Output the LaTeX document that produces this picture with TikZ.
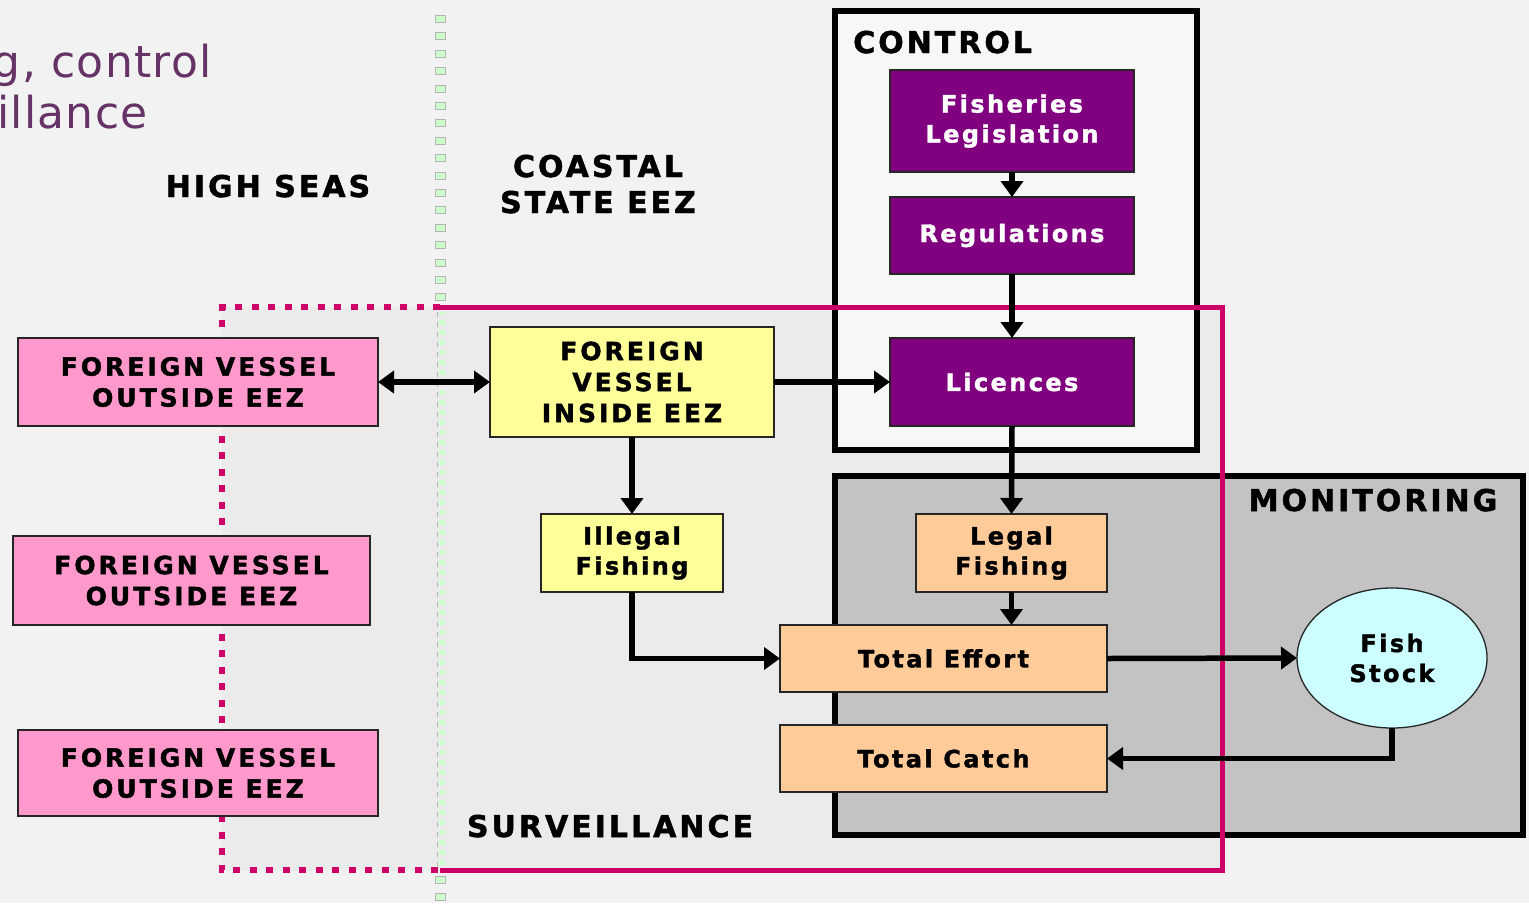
\documentclass[tikz,border=0pt]{standalone}
\usepackage{fontspec}
\usetikzlibrary{arrows.meta,shapes.geometric}
% Verdana-like faces: heavier bold with extra tracking
\newfontfamily\vsans{DejaVu Sans}[LetterSpace=10, BoldFeatures={FakeBold=1.6}]
\newfontfamily\vsanswide{DejaVu Sans}[LetterSpace=12, BoldFeatures={FakeBold=1.6}]
\newfontfamily\vsanslight{DejaVu Sans}[LetterSpace=3]
\definecolor{bgc}{HTML}{F2F2F2}
\definecolor{survfill}{HTML}{EBEBEB}
\definecolor{ctrlfill}{HTML}{F7F7F7}
\definecolor{monfill}{HTML}{C3C3C3}
\definecolor{magline}{HTML}{CC0066}
\definecolor{purpbox}{HTML}{800080}
\definecolor{yelbox}{HTML}{FFFF99}
\definecolor{orabox}{HTML}{FFCC99}
\definecolor{pinkbox}{HTML}{FF99CC}
\definecolor{fishfill}{HTML}{CCFFFF}
\definecolor{headpurp}{HTML}{663366}
\definecolor{dotgreen}{HTML}{CCFFCC}
\definecolor{dotgray}{HTML}{B4B4B4}
\begin{document}
\begin{tikzpicture}[x=1pt,y=-1pt,
  box/.style={rectangle, draw=black!85, line width=1.3pt, inner sep=0pt, outer sep=0pt, align=center},
  capsbox/.style={box, font=\vsanswide\bfseries\fontsize{25}{31}\selectfont},
  mixbox/.style={box, font=\vsans\bfseries\fontsize{24}{30}\selectfont},
  lawbox/.style={mixbox, fill=purpbox, text=white, minimum width=244pt},
  effbox/.style={mixbox, fill=orabox, minimum width=327pt, minimum height=67pt},
  vesselbox/.style={capsbox, fill=pinkbox},
  heading/.style={inner sep=0pt, anchor=base, align=center, font=\vsans\bfseries\fontsize{30}{37}\selectfont},
  arr/.style={line width=5.5pt, -{Triangle[length=16pt,width=22pt]}},
  dblarr/.style={line width=5.5pt, {Triangle[length=16pt,width=22pt]}-{Triangle[length=16pt,width=22pt]}},
  region/.style={line width=6pt, draw=black},
]
\useasboundingbox (0,0) rectangle (1529,903);
\fill[bgc] (0,0) rectangle (1529,903);

% surveillance area
\fill[survfill] (222,307) rectangle (1224,871);

% control and monitoring frames
\draw[region, fill=ctrlfill] (835,11) rectangle (1197,450);
\draw[region, fill=monfill] (835,476) rectangle (1523,835);

% boundary of the EEZ
\draw[dotgray, line width=11pt, dash pattern=on 8pt off 9.4pt] (440,15) -- (440,303);
\draw[dotgreen, line width=9pt, dash pattern=on 6pt off 11.4pt, dash phase=-1pt] (440,15) -- (440,303);
\draw[dotgray, line width=1.2pt, dash pattern=on 5pt off 5pt] (437.5,312) -- (437.5,866);
\draw[dotgreen, line width=6pt, dash pattern=on 5pt off 5pt, dash phase=2.5pt] (441.5,312) -- (441.5,866);
\draw[dotgray, line width=11pt, dash pattern=on 8pt off 9.4pt] (440,876) -- (440,903);
\draw[dotgreen, line width=9pt, dash pattern=on 6pt off 11.4pt, dash phase=-1pt] (440,876) -- (440,903);

% surveillance outline
\draw[magline, line width=6pt, dash pattern=on 7pt off 9.5pt] (440,307) -- (222,307) -- (222,870) -- (440,870);
\draw[magline, line width=5pt] (440,307) -- (1222,307) -- (1222,870) -- (440,870);

% slide title running off the left edge
\node[anchor=base east, inner sep=0pt, text=headpurp, font=\vsanslight\fontsize{44}{52}\selectfont] (title1) at (212,77) {g, control};
\node[anchor=base east, inner sep=0pt, text=headpurp, font=\vsanslight\fontsize{44}{52}\selectfont] (title2) at (148,128) {illance};

% region headings
\node[heading] (highseas) at (268,197) {HIGH SEAS};
\node[heading] (coastal) at (598,177) {COASTAL};
\node[heading] (stateeez) at (598,213) {STATE EEZ};
\node[heading, anchor=base west] (control) at (853,53) {CONTROL};
\node[heading] (monitoring) at (1373,511) {MONITORING};
\node[heading] (surveillance) at (610,837) {SURVEILLANCE};

% vessels
\node[vesselbox, minimum width=360pt, minimum height=88pt] (out1) at (198,382) {FOREIGN VESSEL\\OUTSIDE EEZ};
\node[vesselbox, minimum width=357pt, minimum height=89pt] (out2) at (191.5,580.5) {FOREIGN VESSEL\\OUTSIDE EEZ};
\node[vesselbox, minimum width=360pt, minimum height=86pt] (out3) at (198,773) {FOREIGN VESSEL\\OUTSIDE EEZ};
\node[capsbox, fill=yelbox, minimum width=284pt, minimum height=110pt] (inside) at (632,382) {FOREIGN\\VESSEL\\INSIDE EEZ};
\node[mixbox, fill=yelbox, minimum width=182pt, minimum height=78pt] (illegal) at (632,553) {Illegal\\Fishing};

% control chain
\node[lawbox, minimum height=102pt] (legis) at (1012,121) {Fisheries\\Legislation};
\node[lawbox, minimum height=77pt] (regs) at (1012,235.5) {Regulations};
\node[lawbox, minimum height=88pt] (lic) at (1012,382) {Licences};

% monitoring chain
\node[mixbox, fill=orabox, minimum width=191pt, minimum height=78pt] (legal) at (1011.5,553) {Legal\\Fishing};
\node[effbox] (effort) at (943.5,658.5) {Total Effort};
\node[effbox] (catch) at (943.5,758.5) {Total Catch};
\node[ellipse, draw=black!85, line width=1.3pt, fill=fishfill, minimum width=190pt, minimum height=140pt, inner sep=0pt, outer sep=0pt, align=center, font=\vsans\bfseries\fontsize{24}{30}\selectfont] (fish) at (1392,658) {Fish\\Stock};

% connectors
\draw[dblarr] (out1.east) -- (inside.west);
\draw[arr] (inside.east) -- (lic.west);
\draw[arr] (legis.south) -- (regs.north);
\draw[arr] (regs.south) -- (lic.north);
\draw[arr] (lic.south) -- (legal.north);
\draw[arr] (inside.south) -- (illegal.north);
\draw[arr] (legal.south) -- (legal.south |- effort.north);
\draw[arr] (illegal.south) |- (effort.west);
\draw[arr] (effort.east) -- (fish.west);
\draw[arr] (fish.south) |- (catch.east);
\end{tikzpicture}
\end{document}
